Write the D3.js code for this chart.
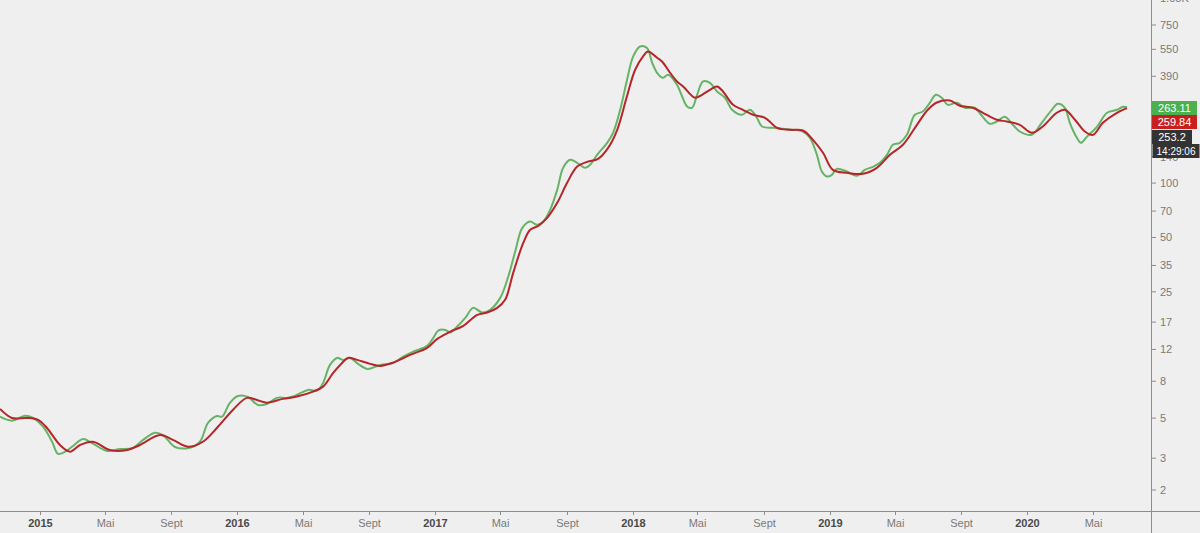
<!DOCTYPE html>
<html>
<head>
<meta charset="utf-8">
<script src="https://cdn.jsdelivr.net/npm/d3@7"></script>
<style>
  html, body { margin: 0; padding: 0; background: #efefef; }
  svg { display: block; font-family: "Liberation Sans", Arial, sans-serif; }
</style>
</head>
<body>
<svg id="chart" width="1200" height="533"></svg>
<script>
// fast moving average (green): decimal year, value
const greenT = [
  2014.797, 2014.857, 2014.924, 2014.965, 2015.015, 2015.061, 2015.091, 2015.127, 2015.162, 2015.218,
  2015.263, 2015.339, 2015.405, 2015.471, 2015.522, 2015.582, 2015.623, 2015.684, 2015.759, 2015.810,
  2015.851, 2015.896, 2015.922, 2015.962, 2016.003, 2016.053, 2016.104, 2016.149, 2016.200, 2016.251,
  2016.281, 2016.357, 2016.403, 2016.433, 2016.468, 2016.504, 2016.534, 2016.570, 2016.610, 2016.656,
  2016.722, 2016.787, 2016.838, 2016.889, 2016.959, 2016.990, 2017.015, 2017.051, 2017.076, 2017.111,
  2017.152, 2017.192, 2017.238, 2017.278, 2017.329, 2017.370, 2017.405, 2017.441, 2017.481,
  2017.516, 2017.547, 2017.582, 2017.618, 2017.648, 2017.684, 2017.719, 2017.759, 2017.785, 2017.820,
  2017.871, 2017.901, 2017.937, 2017.972, 2018.003, 2018.038, 2018.073, 2018.099, 2018.124, 2018.154,
  2018.180, 2018.225, 2018.251, 2018.276, 2018.301, 2018.327, 2018.357, 2018.392, 2018.428, 2018.468,
  2018.504, 2018.554, 2018.595, 2018.630, 2018.656, 2018.711, 2018.762, 2018.813, 2018.863, 2018.899,
  2018.934, 2018.959, 2018.985, 2019.010, 2019.035, 2019.086, 2019.137, 2019.177, 2019.218, 2019.253,
  2019.289, 2019.319, 2019.354, 2019.390, 2019.430, 2019.471, 2019.506, 2019.537, 2019.567, 2019.597,
  2019.643, 2019.684, 2019.734, 2019.770, 2019.810, 2019.846, 2019.886, 2019.927, 2019.962, 2020.023,
  2020.073, 2020.124, 2020.154, 2020.190, 2020.215, 2020.251, 2020.271, 2020.301, 2020.352, 2020.403,
  2020.453, 2020.484, 2020.504
];
const greenV = [
  5.09, 4.84, 5.16, 5.01, 4.48, 3.70, 3.17, 3.26, 3.47, 3.83,
  3.64, 3.29, 3.37, 3.42, 3.79, 4.15, 4.03, 3.46, 3.43, 3.70,
  4.70, 5.14, 5.09, 6.07, 6.63, 6.55, 5.91, 5.99, 6.47, 6.47,
  6.58, 7.16, 7.10, 7.83, 9.85, 10.77, 10.50, 10.77, 9.98, 9.36,
  9.85, 10.10, 10.95, 11.67, 12.55, 13.90, 15.25, 15.39, 14.87, 16.06,
  17.94, 20.38, 19.20, 19.87, 23.15, 30.38, 41.79, 56.53, 61.26,
  58.73, 61.26, 71.11, 91.77, 121.5, 134.5, 129.5, 121.5, 126.2, 143.4,
  167.1, 189.8, 254.5, 373.2, 502.3, 570.6, 559, 463.5, 408, 382.8,
  397.7, 350.1, 301.6, 265.5, 261.1, 308.2, 365.2, 359.1, 321.5, 296.7,
  254.5, 238.8, 254.5, 229.9, 205.7, 202.3, 199.7, 197.2, 193, 178.1,
  143.4, 115.9, 108.7, 111.1, 119.9, 115.9, 109.7, 118.4, 123.0, 129.5,
  143.4, 162.9, 167.1, 185.0, 238.8, 249.0, 278.3, 308.2, 296.7, 271.3,
  278.3, 261.1, 261.1, 235.8, 212.9, 219.3, 232.8, 210.2, 193, 185.0,
  215.6, 254.5, 274.8, 261.1, 215.6, 178.1, 167.1, 180.3, 204.9, 245.0,
  254.5, 264.5, 263.11
];

// slow moving average (red)
const redT = [
  2014.797, 2014.858, 2014.934, 2014.990, 2015.035, 2015.101, 2015.152, 2015.203, 2015.268, 2015.354,
  2015.441, 2015.506, 2015.608, 2015.673, 2015.749, 2015.825, 2015.896, 2015.977, 2016.048, 2016.099,
  2016.149, 2016.230, 2016.301, 2016.382, 2016.433, 2016.484, 2016.529, 2016.559, 2016.605, 2016.671,
  2016.722, 2016.787, 2016.873, 2016.959, 2017.010, 2017.076, 2017.142, 2017.213, 2017.263, 2017.314,
  2017.354, 2017.395, 2017.446, 2017.481, 2017.522, 2017.567, 2017.618, 2017.668, 2017.719, 2017.770,
  2017.825, 2017.876, 2017.922, 2017.972, 2018.013, 2018.053, 2018.078, 2018.124, 2018.149, 2018.190,
  2018.225, 2018.256, 2018.316, 2018.352, 2018.392, 2018.428, 2018.458, 2018.509, 2018.559, 2018.610,
  2018.671, 2018.732, 2018.797, 2018.863, 2018.914, 2018.965, 2019.015, 2019.086, 2019.167, 2019.238,
  2019.304, 2019.370, 2019.441, 2019.496, 2019.542, 2019.608, 2019.658, 2019.724, 2019.775, 2019.846,
  2019.896, 2019.962, 2020.023, 2020.078, 2020.149, 2020.190, 2020.241, 2020.291, 2020.332, 2020.382,
  2020.453, 2020.504
];
const redV = [
  5.62, 5.01, 5.01, 4.885, 4.41, 3.55, 3.26, 3.55, 3.70, 3.33,
  3.33, 3.55, 4.03, 3.79, 3.47, 3.70, 4.41, 5.55, 6.47, 6.30,
  6.09, 6.39, 6.58, 7.01, 7.47, 8.89, 10.10, 10.77, 10.50, 9.98,
  9.73, 10.14, 11.19, 12.24, 13.72, 15.06, 16.20, 18.64, 19.20, 20.38,
  22.57, 31.84, 46.68, 55.11, 57.99, 64.21, 77.75, 100.3, 123.5, 131.1,
  136.2, 156.7, 197.2, 304, 423.9, 502.3, 535.4, 494.0, 471.3, 408,
  365.2, 342.6, 296.7, 308.2, 328.5, 342.6, 321.5, 271.3, 254.5, 238.8,
  229.9, 202.3, 197.2, 195.4, 173.6, 147.1, 118.4, 114.0, 112.5, 121.5,
  143.4, 162.9, 210.2, 254.5, 279.4, 286.6, 267.9, 261.1, 245.0, 224.1,
  219.3, 210.2, 189.8, 205.7, 245.0, 254.5, 224.1, 193, 185.0, 215.6,
  245.0, 259.84
];

const yTicks = [2, 3, 5, 8, 12, 17, 25, 35, 50, 70, 100, 140, 390, 550, 750, 1050];
const monthNames = { 0: null, 4: "Mai", 8: "Sept" };

// last-value tags on the price scale
const tags = [
  { text: "263.11", fill: "#4caf50", cy: 108 },
  { text: "259.84", fill: "#c8201f", cy: 122 },
  { text: "253.2", fill: "#333333", cy: 137 },
  { text: "14:29:06", fill: "#333333", cy: 151 }
];

function toDate(t) {
  const y = Math.floor(t);
  const a = Date.UTC(y, 0, 1), b = Date.UTC(y + 1, 0, 1);
  return new Date(a + (t - y) * (b - a));
}

const W = 1200, H = 533;
const plotR = 1151, plotB = 511;

const svg = d3.select("#chart");
svg.append("rect").attr("width", W).attr("height", H).attr("fill", "#efefef");

const x = d3.scaleUtc()
  .domain([toDate(2014.797), toDate(2020.6253)])
  .range([0, plotR]);

const y = d3.scaleLog()
  .domain([2, 750])
  .range([490, 25]);

svg.append("clipPath").attr("id", "plot-clip")
  .append("rect").attr("width", plotR).attr("height", plotB);

const line = d3.line()
  .x(d => x(d[0]))
  .y(d => y(d[1]))
  .curve(d3.curveCatmullRom.alpha(0.5));

const greenData = greenT.map((t, i) => [toDate(t), greenV[i]]);
const redData = redT.map((t, i) => [toDate(t), redV[i]]);

const plot = svg.append("g").attr("clip-path", "url(#plot-clip)");

plot.append("path")
  .datum(greenData)
  .attr("d", line)
  .attr("fill", "none")
  .attr("stroke", "#66b366")
  .attr("stroke-width", 2);

plot.append("path")
  .datum(redData)
  .attr("d", line)
  .attr("fill", "none")
  .attr("stroke", "#b5262a")
  .attr("stroke-width", 2);

// axis lines
svg.append("line")
  .attr("x1", 0).attr("x2", W).attr("y1", plotB + 0.5).attr("y2", plotB + 0.5)
  .attr("stroke", "#8c8c8c");
svg.append("line")
  .attr("x1", plotR + 0.5).attr("x2", plotR + 0.5).attr("y1", 0).attr("y2", H)
  .attr("stroke", "#8c8c8c");

// price scale
const yAxis = svg.append("g");
yTicks.forEach(v => {
  const yy = y(v);
  yAxis.append("line")
    .attr("x1", plotR).attr("x2", plotR + 5).attr("y1", yy).attr("y2", yy)
    .attr("stroke", "#8c8c8c");
  yAxis.append("text")
    .attr("x", plotR + 9).attr("y", yy).attr("dy", "0.35em")
    .attr("font-size", 11).attr("fill", "#7a7a7a")
    .text(v >= 1000 ? d3.format(".3~s")(v).replace("k", "K") : v);
});

// time scale
const timeTicks = d3.utcMonth.range(x.domain()[0], x.domain()[1])
  .filter(d => d.getUTCMonth() in monthNames);
const xAxis = svg.append("g");
timeTicks.forEach(d => {
  const xx = Math.round(x(d)) + 0.5;
  const m = d.getUTCMonth();
  xAxis.append("line")
    .attr("x1", xx).attr("x2", xx).attr("y1", plotB).attr("y2", plotB + 4)
    .attr("stroke", "#8c8c8c");
  xAxis.append("text")
    .attr("x", xx).attr("y", 527)
    .attr("text-anchor", "middle")
    .attr("font-size", 11)
    .attr("font-weight", m === 0 ? "bold" : "normal")
    .attr("fill", m === 0 ? "#4a4a4a" : "#7a7a7a")
    .text(m === 0 ? d.getUTCFullYear() : monthNames[m]);
});

// value tags
const tagG = svg.append("g");
tags.forEach((tg, i) => {
  const w = i === 2 ? 40 : (i === 3 ? 47 : 45);
  const x0 = i === 3 ? plotR + 1.5 : plotR + 1;
  tagG.append("rect")
    .attr("x", x0).attr("y", tg.cy - 7)
    .attr("width", w).attr("height", 14)
    .attr("fill", tg.fill);
  tagG.append("text")
    .attr("x", x0 + w / 2).attr("y", tg.cy).attr("dy", "0.35em")
    .attr("text-anchor", "middle")
    .attr("font-size", i === 3 ? 10 : 11).attr("fill", "#ffffff")
    .text(tg.text);
});
</script>
</body>
</html>
